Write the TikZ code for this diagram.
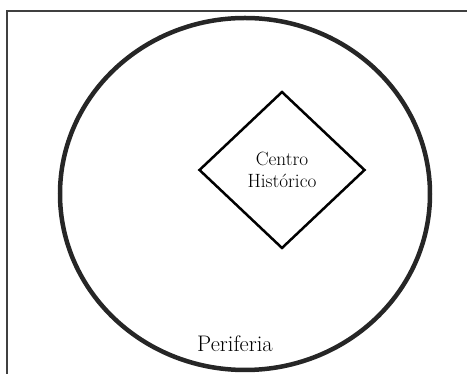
\documentclass[tikz,border=0pt]{standalone}
\usepackage{fontspec}
\usetikzlibrary{shapes.geometric}
\begin{document}
\begin{tikzpicture}[x=1pt, y=1pt, line width=0.6pt]
  \useasboundingbox (0,0) rectangle (467,374);
  \draw[line width=1.5pt, black!75] (7.000,0.000) -- (7.000,363.000) -- (467.000,363.000);
  \draw[line width=4.5pt, black!85] (245.000,180.000) ellipse [x radius=185.000, y radius=176.000];
  \node[draw, diamond, line width=2.5pt, minimum width=166pt, minimum height=157pt, inner sep=0pt, align=center, font=\fontsize{19.2}{21.5}\selectfont] (centro) at (282.000,204.000) {Centro\\Histórico};
  \node[font=\fontsize{22.5}{26}\selectfont, anchor=base, inner sep=1.5pt] (periferia) at (235.000,22.300) {Periferia};
\end{tikzpicture}
\end{document}
